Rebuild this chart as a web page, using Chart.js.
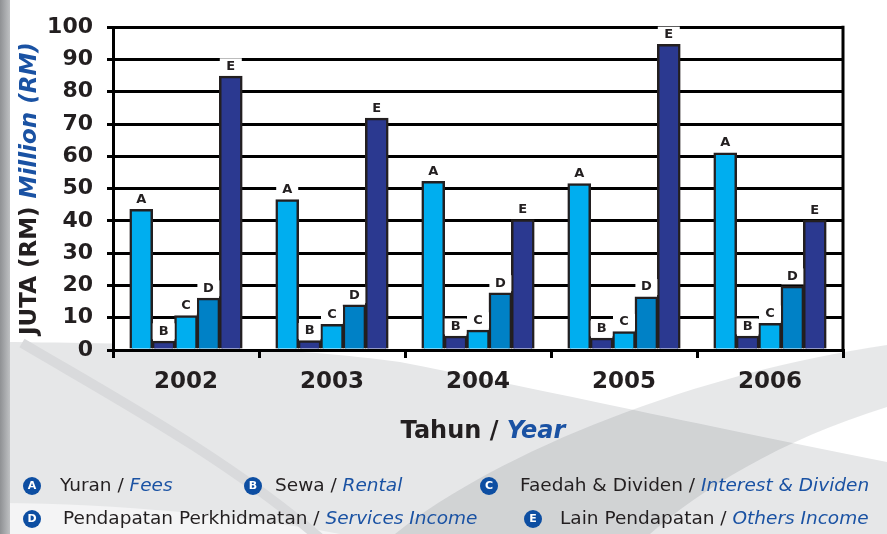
<!DOCTYPE html>
<html>
<head>
<meta charset="utf-8">
<script src="https://cdn.jsdelivr.net/npm/chart.js@4"></script>
<style>
  html, body { margin: 0; padding: 0; background: #fff; }
  #wrap { width: 887px; height: 534px; position: relative; }
</style>
</head>
<body>
<div id="wrap"><canvas id="chart" width="887" height="534"></canvas></div>
<script>
// data
const years = ["2002", "2003", "2004", "2005", "2006"];
const seriesKeys = ["A", "B", "C", "D", "E"];
const fees = [43.5, 46.5, 52.2, 51.5, 61];
const rental = [2.7, 2.8, 4.2, 3.6, 4.2];
const interest = [10.6, 7.9, 6.1, 5.6, 8.2];
const services = [16, 13.9, 17.6, 16.4, 19.7];
const others = [84.8, 71.8, 40.3, 94.6, 40.2];
const yTicks = [0, 10, 20, 30, 40, 50, 60, 70, 80, 90, 100];
const legendMalay = ["Yuran / ", "Sewa / ", "Faedah & Dividen / ", "Pendapatan Perkhidmatan / ", "Lain Pendapatan / "];
const legendEnglish = ["Fees", "Rental", "Interest & Dividen", "Services Income", "Others Income"];

// where each legend entry sits: circle centre, text start
const legendSpots = [
  { cx: 32, tx: 60, y: 486 },
  { cx: 253, tx: 275, y: 486 },
  { cx: 489, tx: 520, y: 486 },
  { cx: 32, tx: 63, y: 519 },
  { cx: 533, tx: 560, y: 519 }
];

const INK = "#231F20";
const BLUE = "#1A52A3";
const FONT = '"DejaVu Sans", Verdana, sans-serif';

// background swooshes + white plot area
const backdrop = {
  id: "backdrop",
  beforeDraw(chart) {
    const { ctx, chartArea: a } = chart;
    ctx.save();
    ctx.fillStyle = "#fff";
    ctx.fillRect(0, 0, 887, 534);

    // light grey lower part
    ctx.fillStyle = "#E6E7E8";
    ctx.beginPath();
    ctx.moveTo(0, 342);
    ctx.bezierCurveTo(150, 343, 300, 348, 400, 362);
    ctx.bezierCurveTo(520, 385, 700, 425, 887, 462);
    ctx.lineTo(887, 534);
    ctx.lineTo(0, 534);
    ctx.closePath();
    ctx.fill();

    // pale strip at the bottom left
    ctx.fillStyle = "#F4F4F5";
    ctx.beginPath();
    ctx.moveTo(0, 503);
    ctx.bezierCurveTo(120, 504, 240, 515, 340, 534);
    ctx.lineTo(0, 534);
    ctx.closePath();
    ctx.fill();

    // thin grey arc on the left
    ctx.strokeStyle = "#D9DADC";
    ctx.lineWidth = 10;
    ctx.beginPath();
    ctx.moveTo(22, 343);
    ctx.bezierCurveTo(110, 395, 230, 460, 322, 540);
    ctx.stroke();

    // translucent band rising to the right
    ctx.fillStyle = "rgba(60,65,75,0.12)";
    ctx.beginPath();
    ctx.moveTo(395, 534);
    ctx.bezierCurveTo(500, 450, 700, 372, 887, 345);
    ctx.lineTo(887, 407);
    ctx.bezierCurveTo(780, 440, 700, 490, 650, 534);
    ctx.closePath();
    ctx.fill();

    // left edge strip
    const g = ctx.createLinearGradient(0, 0, 12, 0);
    g.addColorStop(0, "#8F9194");
    g.addColorStop(1, "#C8CACC");
    ctx.fillStyle = g;
    ctx.fillRect(0, 0, 10, 534);

    ctx.fillStyle = "#fff";
    ctx.fillRect(a.left, a.top, a.right - a.left, a.bottom - a.top);
    ctx.restore();
  }
};

// letters over each bar, on a small white patch that breaks the grid
const barLetters = {
  id: "barLetters",
  afterDatasetsDraw(chart) {
    const ctx = chart.ctx;
    ctx.save();
    ctx.font = "bold 13px " + FONT;
    ctx.textAlign = "center";
    ctx.textBaseline = "middle";
    chart.data.datasets.forEach((ds, i) => {
      chart.getDatasetMeta(i).data.forEach(bar => {
        const x = bar.x, y = bar.y - 10;
        ctx.fillStyle = "#fff";
        ctx.fillRect(x - 11, y - 8, 22, 16);
        ctx.fillStyle = INK;
        ctx.fillText(seriesKeys[i], x, y);
      });
    });
    // right frame line
    const a = chart.chartArea;
    ctx.strokeStyle = "#000";
    ctx.lineWidth = 3;
    ctx.beginPath();
    ctx.moveTo(a.right, a.top - 1.5);
    ctx.lineTo(a.right, a.bottom);
    ctx.stroke();
    ctx.restore();
  }
};

function drawMixed(ctx, parts, x, y, align) {
  let total = 0;
  parts.forEach(p => { ctx.font = p.font; total += ctx.measureText(p.text).width; });
  let cx = align === "center" ? x - total / 2 : x;
  ctx.textAlign = "left";
  parts.forEach(p => {
    ctx.font = p.font;
    ctx.fillStyle = p.color;
    ctx.fillText(p.text, cx, y);
    cx += ctx.measureText(p.text).width;
  });
}

// axis titles and the legend
const annotations = {
  id: "annotations",
  afterDraw(chart) {
    const { ctx, chartArea: a } = chart;
    ctx.save();
    ctx.textBaseline = "middle";

    // x title
    drawMixed(ctx, [
      { text: "Tahun / ", font: "bold 24px " + FONT, color: INK },
      { text: "Year", font: "italic bold 24px " + FONT, color: BLUE }
    ], 483, 432, "center");

    // y title
    ctx.save();
    ctx.translate(30, (a.top + a.bottom) / 2);
    ctx.rotate(-Math.PI / 2);
    drawMixed(ctx, [
      { text: "JUTA (RM) ", font: "bold 23px " + FONT, color: INK },
      { text: "Million (RM)", font: "italic bold 23px " + FONT, color: BLUE }
    ], 0, 0, "center");
    ctx.restore();

    // legend
    legendSpots.forEach((s, i) => {
      ctx.fillStyle = "#0D4EA2";
      ctx.beginPath();
      ctx.arc(s.cx, s.y, 9, 0, Math.PI * 2);
      ctx.fill();
      ctx.fillStyle = "#fff";
      ctx.font = "bold 11px " + FONT;
      ctx.textAlign = "center";
      ctx.fillText(seriesKeys[i], s.cx, s.y + 0.5);
      drawMixed(ctx, [
        { text: legendMalay[i], font: "18.5px " + FONT, color: INK },
        { text: legendEnglish[i], font: "italic 18.5px " + FONT, color: BLUE }
      ], s.tx, s.y, "left");
    });
    ctx.restore();
  }
};

const barColors = ["#00AEEF", "#2B3990", "#00AEEF", "#0081C6", "#2B3990"];
const seriesData = [fees, rental, interest, services, others];

new Chart(document.getElementById("chart"), {
  type: "bar",
  data: {
    labels: years,
    datasets: seriesKeys.map((k, i) => ({
      label: k,
      data: seriesData[i],
      backgroundColor: barColors[i],
      borderColor: INK,
      borderWidth: 2.5,
      borderSkipped: "bottom",
      inflateAmount: 0.6,
      categoryPercentage: 0.767,
      barPercentage: 1.0
    }))
  },
  options: {
    responsive: false,
    animation: false,
    layout: { padding: { top: 20, right: 44, left: 0, bottom: 0 } },
    plugins: {
      legend: { display: false },
      tooltip: { enabled: false }
    },
    scales: {
      x: {
        grid: {
          offset: true,
          drawOnChartArea: false,
          drawTicks: true,
          tickLength: 8,
          color: "#000",
          lineWidth: 3
        },
        border: { display: true, color: "#000", width: 3 },
        ticks: {
          color: INK,
          font: { family: FONT, size: 23, weight: "bold" },
          padding: 10
        },
        afterFit(scale) { scale.height = 184; }
      },
      y: {
        min: 0,
        max: 100,
        afterBuildTicks(scale) { scale.ticks = yTicks.map(v => ({ value: v })); },
        grid: {
          color: "#000",
          lineWidth: 3,
          tickLength: 6
        },
        border: { display: true, color: "#000", width: 3 },
        ticks: {
          color: INK,
          font: { family: FONT, size: 22, weight: "bold" },
          padding: 14
        },
        afterFit(scale) { scale.width = 113; }
      }
    }
  },
  plugins: [backdrop, barLetters, annotations]
});
</script>
</body>
</html>
